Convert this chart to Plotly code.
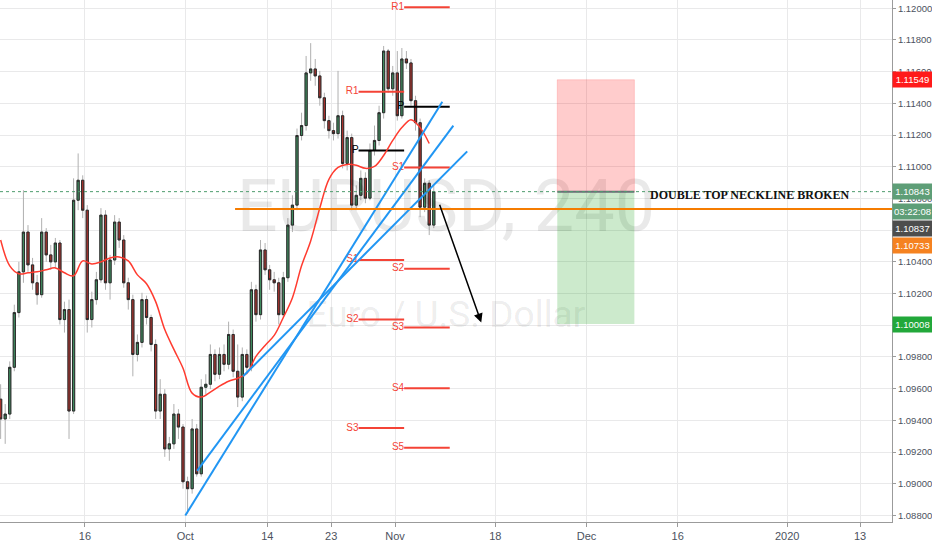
import pandas as pd
import numpy as np
import plotly.graph_objects as go

# EURUSD, 12h candles (weekends skipped like TradingView)
days = pd.bdate_range("2019-09-02", "2019-11-07")
candle_times = []
for day in days:
    candle_times += [day + pd.Timedelta(hours=6), day + pd.Timedelta(hours=18)]
candle_times = candle_times[1:97]

opens = [1.09534, 1.09409, 1.09440, 1.09735, 1.10080, 1.10337, 1.10588, 1.10381, 1.10268, 1.10193,
         1.10588, 1.10444, 1.10400, 1.10519, 1.10036, 1.10099, 1.09459, 1.10789, 1.10915, 1.10726,
         1.10036, 1.10162, 1.10287, 1.10695, 1.10268, 1.10412, 1.10651, 1.10538, 1.10268, 1.10162,
         1.09816, 1.09892, 1.10162, 1.10049, 1.09879, 1.09459, 1.09565, 1.09220, 1.09252, 1.09440,
         1.09358, 1.09013, 1.08969, 1.09346, 1.09063, 1.09609, 1.09628, 1.09816, 1.09691, 1.09816,
         1.09754, 1.09942, 1.09710, 1.09547, 1.09816, 1.09735, 1.10224, 1.10067, 1.10475, 1.10350,
         1.10287, 1.10268, 1.10067, 1.10300, 1.10632, 1.10758, 1.11197, 1.11260, 1.11592, 1.11617,
         1.11573, 1.11435, 1.11291, 1.11228, 1.11209, 1.11322, 1.11021, 1.11184, 1.10758, 1.10820,
         1.10927, 1.10802, 1.11103, 1.11166, 1.11341, 1.11730, 1.11492, 1.11592, 1.11322, 1.11680,
         1.11655, 1.11417, 1.11278, 1.10745, 1.10896, 1.10632]
highs = [1.09628, 1.09503, 1.09772, 1.10130, 1.10400, 1.10852, 1.10632, 1.10425, 1.10318, 1.10676,
         1.10613, 1.10507, 1.10551, 1.10538, 1.10149, 1.10162, 1.10927, 1.11084, 1.10946, 1.10758,
         1.10212, 1.10337, 1.10739, 1.10726, 1.10444, 1.10695, 1.10676, 1.10569, 1.10300, 1.10193,
         1.09942, 1.10205, 1.10187, 1.10067, 1.09911, 1.09660, 1.09597, 1.09296, 1.09503, 1.09471,
         1.09377, 1.09045, 1.09409, 1.09377, 1.09660, 1.09691, 1.09879, 1.09848, 1.09860, 1.09879,
         1.10023, 1.09973, 1.09879, 1.09860, 1.09848, 1.10274, 1.10256, 1.10538, 1.10519, 1.10381,
         1.10337, 1.10300, 1.10337, 1.10676, 1.10820, 1.11241, 1.11341, 1.11699, 1.11780, 1.11680,
         1.11605, 1.11467, 1.11322, 1.11278, 1.11605, 1.11354, 1.11228, 1.11209, 1.10883, 1.10977,
         1.10965, 1.11147, 1.11260, 1.11385, 1.11762, 1.11743, 1.11636, 1.11730, 1.11749, 1.11730,
         1.11680, 1.11448, 1.11304, 1.10927, 1.10915, 1.10883]
lows = [1.09283, 1.09252, 1.09409, 1.09710, 1.10049, 1.10268, 1.10337, 1.10224, 1.10130, 1.10174,
        1.10400, 1.10350, 1.10362, 1.10005, 1.09954, 1.09283, 1.09440, 1.10726, 1.10676, 1.09954,
        1.09986, 1.10130, 1.10268, 1.10224, 1.10162, 1.10381, 1.10488, 1.10237, 1.10099, 1.09678,
        1.09772, 1.09860, 1.10005, 1.09835, 1.09409, 1.09409, 1.09170, 1.09145, 1.09220, 1.09283,
        1.08969, 1.08812, 1.08938, 1.09045, 1.09045, 1.09565, 1.09597, 1.09647, 1.09660, 1.09710,
        1.09722, 1.09672, 1.09484, 1.09521, 1.09691, 1.09710, 1.10023, 1.10036, 1.10318, 1.10224,
        1.10212, 1.10005, 1.10049, 1.10274, 1.10588, 1.10726, 1.11166, 1.11228, 1.11542, 1.11511,
        1.11385, 1.11241, 1.11178, 1.11166, 1.11178, 1.10990, 1.10977, 1.10726, 1.10726, 1.10789,
        1.10770, 1.10789, 1.11071, 1.11134, 1.11304, 1.11467, 1.11448, 1.11291, 1.11304, 1.11617,
        1.11385, 1.11228, 1.10682, 1.10714, 1.10569, 1.10613]
closes = [1.09409, 1.09440, 1.09735, 1.10080, 1.10337, 1.10588, 1.10381, 1.10268, 1.10193, 1.10588,
          1.10444, 1.10400, 1.10519, 1.10036, 1.10099, 1.09459, 1.10789, 1.10915, 1.10726, 1.10036,
          1.10162, 1.10287, 1.10695, 1.10268, 1.10412, 1.10651, 1.10538, 1.10268, 1.10162, 1.09816,
          1.09892, 1.10162, 1.10049, 1.09879, 1.09459, 1.09565, 1.09220, 1.09252, 1.09440, 1.09358,
          1.09013, 1.08969, 1.09346, 1.09063, 1.09609, 1.09628, 1.09816, 1.09691, 1.09816, 1.09754,
          1.09942, 1.09710, 1.09547, 1.09816, 1.09735, 1.10224, 1.10067, 1.10475, 1.10350, 1.10287,
          1.10268, 1.10067, 1.10300, 1.10632, 1.10758, 1.11197, 1.11260, 1.11592, 1.11617, 1.11573,
          1.11435, 1.11291, 1.11228, 1.11209, 1.11322, 1.11021, 1.11184, 1.10758, 1.10820, 1.10927,
          1.10802, 1.11103, 1.11166, 1.11341, 1.11730, 1.11492, 1.11592, 1.11322, 1.11680, 1.11655,
          1.11417, 1.11278, 1.10745, 1.10896, 1.10632, 1.10843]

# moving average (red), one value every second candle
ma_times = candle_times[::2]
ma_vals = [1.10538, 1.10375, 1.10325, 1.10331, 1.10337, 1.10350, 1.10362, 1.10331, 1.10312, 1.10406,
           1.10387, 1.10400, 1.10425, 1.10431, 1.10406, 1.10318, 1.10262, 1.10149, 1.09973, 1.09848,
           1.09729, 1.09572, 1.09547, 1.09578, 1.09616, 1.09647, 1.09666, 1.09697, 1.09804, 1.09873,
           1.09936, 1.10049, 1.10174, 1.10375, 1.10532, 1.10739, 1.10921, 1.10996, 1.11015, 1.11009,
           1.10990, 1.11002, 1.11071, 1.11166, 1.11247, 1.11297, 1.11247, 1.11147]

# weekly pivots
pivot_weeks = [("2019-10-28", "2019-11-01 23:59"), ("2019-11-04", "2019-11-08 23:59")]
pivot_names = [["R1", "P", "S1", "S2", "S3"],
               ["R1", "P", "S1", "S2", "S3", "S4", "S5"]]
pivot_prices = [[1.11473, 1.11103, 1.10412, 1.10036, 1.09352],
                [1.12006, 1.11379, 1.10996, 1.10356, 1.09986, 1.09603, 1.09227]]

# trend lines (blue)
trend_start_dates = ["2019-10-01 00:00", "2019-10-02 07:00", "2019-10-09 08:00"]
trend_start_prices = [1.08800, 1.09082, 1.09678]
trend_end_dates = ["2019-11-08 04:30", "2019-11-11 09:30", "2019-11-12 22:00"]
trend_end_prices = [1.11410, 1.11260, 1.11097]

neckline_price = 1.10733
neckline_start = "2019-10-08 11:00"
last_price = 1.10843
stop_price = 1.11549
target_price = 1.10008
box_start, box_end = "2019-11-26 19:00", "2019-12-09 06:00"

tick_dates = ["2019-09-16", "2019-10-01", "2019-10-14", "2019-10-23", "2019-11-01",
              "2019-11-18", "2019-12-02", "2019-12-16", "2020-01-01", "2020-01-13"]
tick_labels = ["16", "Oct", "14", "23", "Nov", "18", "Dec", "16", "2020", "13"]

x_range = ["2019-09-02 16:20", "2020-01-16 12:00"]
y_range = [1.08759, 1.12052]

red = "#f44336"
fig = go.Figure()

# watermark under everything
fig.add_trace(go.Scatter(x=["2019-11-08 14:00", "2019-11-08 14:00"], y=[1.10708, 1.10046],
                         mode="text", text=["EURUSD, 240", "Euro / U.S. Dollar"],
                         textfont=dict(family="Roboto", size=[72, 37],
                                       color="rgba(0,0,0,0.085)"),
                         hoverinfo="skip"))

# pivot lines + labels
for (w0, w1), names, prices in zip(pivot_weeks, pivot_names, pivot_prices):
    for name, p in zip(names, prices):
        col = "black" if name == "P" else red
        fig.add_trace(go.Scatter(x=[w0, w1], y=[p, p], mode="lines",
                                 line=dict(color=col, width=2), hoverinfo="skip"))
    fig.add_trace(go.Scatter(x=[w0] * len(names), y=prices, mode="text", text=names,
                             textposition="middle left",
                             textfont=dict(family="Liberation Sans", size=10,
                                           color=["black" if n == "P" else red for n in names]),
                             hoverinfo="skip"))

# candles: grey wicks first, then bodies with dark outline
fig.add_trace(go.Candlestick(x=candle_times, open=opens, high=highs, low=lows, close=closes,
                             increasing=dict(line=dict(color="#b0b0b0", width=1), fillcolor="#b0b0b0"),
                             decreasing=dict(line=dict(color="#b0b0b0", width=1), fillcolor="#b0b0b0"),
                             hoverinfo="skip"))
body_top = np.maximum(opens, closes)
body_bot = np.minimum(opens, closes)
fig.add_trace(go.Candlestick(x=candle_times, open=opens, high=body_top, low=body_bot, close=closes,
                             increasing=dict(line=dict(color="#2a2a2a", width=1), fillcolor="#3f8a5e"),
                             decreasing=dict(line=dict(color="#2a2a2a", width=1), fillcolor="#a8322d")))

fig.add_trace(go.Scatter(x=ma_times, y=ma_vals, mode="lines",
                         line=dict(color="#ff3b2f", width=1.5, shape="spline"), hoverinfo="skip"))

for x0, y0, x1, y1 in zip(trend_start_dates, trend_start_prices, trend_end_dates, trend_end_prices):
    fig.add_trace(go.Scatter(x=[x0, x1], y=[y0, y1], mode="lines",
                             line=dict(color="#2196f3", width=2), hoverinfo="skip"))

# short position tool
fig.add_shape(type="rect", x0=box_start, x1=box_end, y0=last_price, y1=stop_price,
              fillcolor="rgba(255,0,0,0.2)", line=dict(width=1, color="rgba(255,0,0,0.15)"))
fig.add_shape(type="rect", x0=box_start, x1=box_end, y0=target_price, y1=last_price,
              fillcolor="rgba(0,150,0,0.2)", line=dict(width=0))
fig.add_shape(type="line", x0=box_start, x1=box_end, y0=last_price, y1=last_price,
              line=dict(color="#6b6f78", width=2))

# last price (dotted) and neckline
fig.add_shape(type="line", xref="paper", x0=0, x1=1, y0=last_price, y1=last_price,
              line=dict(color="#4f9c6e", width=1, dash="dot"))
fig.add_shape(type="line", x0=neckline_start, x1=x_range[1], y0=neckline_price, y1=neckline_price,
              line=dict(color="#f57c00", width=2))

fig.add_annotation(x="2019-11-14 11:00", y=1.10017, ax="2019-11-07 20:00", ay=1.10770,
                   axref="x", ayref="y", text="", showarrow=True, arrowhead=2,
                   arrowsize=1.2, arrowwidth=1.5, arrowcolor="black")
fig.add_annotation(x="2019-12-10 17:00", y=1.10820, text="<b>DOUBLE TOP NECKLINE BROKEN</b>",
                   showarrow=False, xanchor="left", yanchor="middle",
                   font=dict(family="Liberation Serif", size=12, color="#111111"))

# price-scale labels on the right
axis_labels = [("1.11549", stop_price, 0, "#ff1a1a"),
               ("1.10843", last_price, 0, "#5e9e77"),
               ("03:22:08", last_price, -20, "#5e9e77"),
               ("1.10837", last_price, -37, "#4d4d4d"),
               ("1.10733", neckline_price, -36, "#f58220"),
               ("1.10008", target_price, 0, "#22a83a")]
for txt, p, shift, bg in axis_labels:
    fig.add_annotation(xref="paper", x=1, y=p, yshift=shift, text=txt, showarrow=False,
                       xanchor="left", yanchor="middle", bgcolor=bg, width=39, height=15,
                       borderpad=0, font=dict(family="Liberation Sans", size=9.5, color="white"))

fig.update_layout(
    width=932, height=550,
    margin=dict(l=0, r=40, t=0, b=28, pad=0),
    plot_bgcolor="white", paper_bgcolor="white",
    showlegend=False,
    font=dict(family="Liberation Sans", size=11, color="#4c525e"),
)
fig.update_xaxes(type="date", range=x_range, rangeslider_visible=False, automargin=False,
                 rangebreaks=[dict(bounds=["sat", "mon"])],
                 tickvals=tick_dates, ticktext=tick_labels,
                 showgrid=True, gridcolor="#e9e9ea", gridwidth=1,
                 showline=True, linecolor="#9b9b9b", ticks="outside", ticklen=4,
                 tickcolor="#9b9b9b", zeroline=False)
fig.update_yaxes(range=y_range, side="right", dtick=0.002, tick0=1.088, tickformat=".5f",
                 automargin=False, showgrid=True, gridcolor="#e9e9ea", gridwidth=1,
                 showline=True, linecolor="#9b9b9b", ticks="outside", ticklen=3,
                 tickcolor="#9b9b9b", zeroline=False, tickfont=dict(size=9.5))

# drop the page's default body margin so the chart fills the window
fig.write_html("out.html", config={"displayModeBar": False},
               post_script="document.body.style.margin = '0';")
